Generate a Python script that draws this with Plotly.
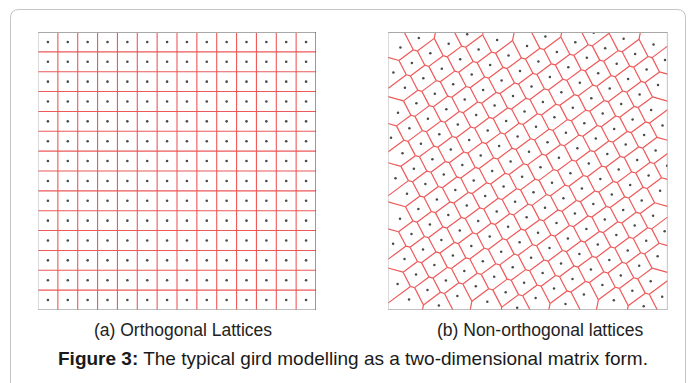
import numpy as np
import plotly.graph_objects as go

# The page body has an 8px margin, so the figure is drawn 8px in and sized to fill the rest.
OFF = 8
FIG_W, FIG_H = 696 - OFF, 383 - OFF

# ---------------- data ----------------
# (a) orthogonal lattice: 14 x 14 cells, grid line indices and cell-centre dots
grid_lines = list(range(15))
cell_centres = [0.5, 1.5, 2.5, 3.5, 4.5, 5.5, 6.5, 7.5, 8.5, 9.5, 10.5, 11.5, 12.5, 13.5]

# (b) non-orthogonal lattice: generator points (px from panel top-left)
pts_u = [
    12.4, 30.8,
    5.4, 23.9, 42.3, 60.7, 79.2,
    16.9, 35.3, 53.8, 72.2, 90.6, 109.1,
    10.0, 28.4, 46.8, 65.2, 83.7, 102.1, 120.5, 139.0, 157.4,
    3.0, 21.4, 39.9, 58.3, 76.7, 95.1, 113.6, 132.0, 150.4, 168.9, 187.3, 205.7,
    14.5, 32.9, 51.3, 69.8, 88.2, 106.6, 125.0, 143.5, 161.9, 180.3, 198.8, 217.2, 235.6,
    7.5, 25.9, 44.4, 62.8, 81.2, 99.7, 118.1, 136.5, 154.9, 173.4, 191.8, 210.2, 228.7, 247.1, 265.5,
    19.0, 37.4, 55.8, 74.3, 92.7, 111.1, 129.6, 148.0, 166.4, 184.8, 203.3, 221.7, 240.1, 258.6, 277.0,
    12.0, 30.4, 48.9, 67.3, 85.7, 104.2, 122.6, 141.0, 159.5, 177.9, 196.3, 214.7, 233.2, 251.6, 270.0,
    5.1, 23.5, 41.9, 60.3, 78.8, 97.2, 115.6, 134.1, 152.5, 170.9, 189.4, 207.8, 226.2, 244.6, 263.1,
    16.5, 35.0, 53.4, 71.8, 90.2, 108.7, 127.1, 145.5, 164.0, 182.4, 200.8, 219.3, 237.7, 256.1, 274.5,
    9.6, 28.0, 46.4, 64.9, 83.3, 101.7, 120.1, 138.6, 157.0, 175.4, 193.9, 212.3, 230.7, 249.2, 267.6,
    21.0, 39.5, 57.9, 76.3, 94.8, 113.2, 131.6, 150.0, 168.5, 186.9, 205.3, 223.8, 242.2, 260.6, 279.1,
    50.9, 69.4, 87.8, 106.2, 124.7, 143.1, 161.5, 179.9, 198.4, 216.8, 235.2, 253.7, 272.1,
    99.3, 117.7, 136.1, 154.6, 173.0, 191.4, 209.8, 228.3, 246.7, 265.1,
    129.2, 147.6, 166.0, 184.5, 202.9, 221.3, 239.7, 258.2, 276.6,
    177.5, 195.9, 214.4, 232.8, 251.2, 269.6,
    225.8, 244.3, 262.7,
    255.7, 274.2,
]
pts_v = [
    15.4, 5.9,
    40.4, 30.9, 21.3, 11.8, 2.2,
    55.8, 46.3, 36.7, 27.2, 17.6, 8.1,
    80.8, 71.3, 61.7, 52.2, 42.6, 33.1, 23.5, 14.0, 4.4,
    105.8, 96.3, 86.7, 77.2, 67.6, 58.1, 48.5, 39.0, 29.4, 19.9, 10.3, 0.8,
    121.3, 111.7, 102.2, 92.6, 83.1, 73.5, 64.0, 54.4, 44.9, 35.3, 25.8, 16.2, 6.7,
    146.3, 136.7, 127.2, 117.6, 108.1, 98.5, 89.0, 79.4, 69.9, 60.3, 50.8, 41.2, 31.7, 22.1, 12.6,
    161.7, 152.1, 142.6, 133.0, 123.5, 113.9, 104.4, 94.8, 85.3, 75.7, 66.2, 56.6, 47.1, 37.5, 28.0,
    186.7, 177.1, 167.6, 158.0, 148.5, 138.9, 129.4, 119.8, 110.3, 100.7, 91.2, 81.6, 72.1, 62.5, 53.0,
    211.7, 202.1, 192.6, 183.0, 173.5, 163.9, 154.4, 144.8, 135.3, 125.7, 116.2, 106.6, 97.1, 87.5, 78.0,
    227.1, 217.6, 208.0, 198.5, 188.9, 179.4, 169.8, 160.3, 150.7, 141.2, 131.6, 122.1, 112.5, 103.0, 93.4,
    252.1, 242.6, 233.0, 223.5, 213.9, 204.4, 194.8, 185.3, 175.7, 166.2, 156.6, 147.1, 137.5, 128.0, 118.4,
    267.5, 258.0, 248.4, 238.9, 229.3, 219.8, 210.2, 200.7, 191.1, 181.6, 172.0, 162.5, 152.9, 143.4, 133.8,
    273.4, 263.9, 254.3, 244.8, 235.2, 225.7, 216.1, 206.6, 197.0, 187.5, 177.9, 168.4, 158.8,
    269.8, 260.2, 250.7, 241.1, 231.6, 222.0, 212.5, 202.9, 193.4, 183.8,
    275.7, 266.1, 256.6, 247.0, 237.5, 227.9, 218.4, 208.8, 199.3,
    272.0, 262.5, 252.9, 243.4, 233.8, 224.3,
    268.3, 258.8, 249.2,
    274.2, 264.7,
]
PANEL_W, PANEL_H = 279.5, 278.0

sub_a = "(a) Orthogonal Lattices"
sub_b = "(b) Non-orthogonal lattices"
caption_bold = "Figure 3:"
caption_rest = " The typical gird modelling as a two-dimensional matrix form."

RED = "rgb(238,88,88)"
DOT = "#4a4a4a"

# ---------------- Voronoi of (b) by half-plane clipping ----------------
P = np.column_stack([pts_u, pts_v]).astype(float)


def clip(poly, p, q):
    d = q - p
    m = (p + q) / 2.0
    out = []
    n = len(poly)
    for k in range(n):
        A = poly[k]
        B = poly[(k + 1) % n]
        fa = np.dot(A - m, d)
        fb = np.dot(B - m, d)
        if fa <= 0:
            out.append(A)
        if fa * fb < 0:
            t = fa / (fa - fb)
            out.append(A + t * (B - A))
    return out


def on_border(A, B, eps=1e-6):
    if abs(A[0] - B[0]) < eps and (abs(A[0]) < eps or abs(A[0] - PANEL_W) < eps):
        return True
    if abs(A[1] - B[1]) < eps and (abs(A[1]) < eps or abs(A[1] - PANEL_H) < eps):
        return True
    return False


seen = set()
vx, vy = [], []
for k, p in enumerate(P):
    poly = [np.array(c, float) for c in [(0, 0), (PANEL_W, 0), (PANEL_W, PANEL_H), (0, PANEL_H)]]
    d2 = ((P - p) ** 2).sum(1)
    for j in np.argsort(d2)[1:45]:
        poly = clip(poly, p, P[j])
    for e in range(len(poly)):
        A = poly[e]
        B = poly[(e + 1) % len(poly)]
        if on_border(A, B):
            continue
        key = tuple(sorted([(round(A[0], 1), round(A[1], 1)), (round(B[0], 1), round(B[1], 1))]))
        if key in seen:
            continue
        seen.add(key)
        vx += [A[0], B[0], None]
        vy += [A[1], B[1], None]


# ---------------- figure ----------------
def px(x):
    return (x - OFF) / FIG_W


def py(y):
    return 1 - (y - OFF) / FIG_H


fig = go.Figure()

# (a) red grid lines (interior)
gx, gy = [], []
for g in grid_lines[1:-1]:
    gx += [g, g, None]
    gy += [grid_lines[0], grid_lines[-1], None]
    gx += [grid_lines[0], grid_lines[-1], None]
    gy += [g, g, None]
fig.add_trace(go.Scatter(x=gx, y=gy, mode="lines", line=dict(color=RED, width=1.1),
                         xaxis="x", yaxis="y", hoverinfo="skip", showlegend=False))
dx = [c for c in cell_centres for _ in cell_centres]
dy = [r for _ in cell_centres for r in cell_centres]
fig.add_trace(go.Scatter(x=dx, y=dy, mode="markers", marker=dict(size=2.6, color=DOT),
                         xaxis="x", yaxis="y", hoverinfo="skip", showlegend=False))

# (b) Voronoi edges and generator dots
fig.add_trace(go.Scatter(x=vx, y=vy, mode="lines", line=dict(color=RED, width=1.2),
                         xaxis="x2", yaxis="y2", hoverinfo="skip", showlegend=False))
fig.add_trace(go.Scatter(x=pts_u, y=pts_v, mode="markers", marker=dict(size=2.5, color=DOT),
                         xaxis="x2", yaxis="y2", hoverinfo="skip", showlegend=False))

y_dom = [py(310), py(32)]
ax_common = dict(visible=False, showgrid=False, zeroline=False, fixedrange=True)
fig.update_layout(
    width=FIG_W, height=FIG_H,
    margin=dict(l=0, r=0, t=0, b=0),
    paper_bgcolor="white", plot_bgcolor="white",
    xaxis=dict(domain=[px(38), px(316)], range=[0, 14], **ax_common),
    yaxis=dict(domain=y_dom, range=[14, 0], **ax_common),
    xaxis2=dict(domain=[px(388), px(667.5)], range=[0, PANEL_W], **ax_common),
    yaxis2=dict(domain=y_dom, range=[PANEL_H, 0], anchor="x2", **ax_common),
)

# panel frames
GRAY = "#a8a8a8"
shapes = []
for xr, yr, x1, y1, right_col in [("x", "y", 14, 14, "#7a4646"), ("x2", "y2", PANEL_W, PANEL_H, "#9a9a9a")]:
    shapes += [
        dict(type="line", xref=xr, yref=yr, x0=0, y0=0, x1=x1, y1=0, line=dict(color=GRAY, width=1.8)),
        dict(type="line", xref=xr, yref=yr, x0=0, y0=y1, x1=x1, y1=y1, line=dict(color=GRAY, width=1.4)),
        dict(type="line", xref=xr, yref=yr, x0=0, y0=0, x1=0, y1=y1, line=dict(color="#b8b8b8", width=1)),
        dict(type="line", xref=xr, yref=yr, x0=x1, y0=0, x1=x1, y1=y1, line=dict(color=right_col, width=1.2)),
    ]

# outer rounded frame (in paper coordinates)
frame = (f"M {px(10.5)},{py(400)} L {px(10.5)},{py(18)} Q {px(10.5)},{py(9.5)} {px(19)},{py(9.5)} "
         f"L {px(677)},{py(9.5)} Q {px(685.5)},{py(9.5)} {px(685.5)},{py(18)} L {px(685.5)},{py(400)}")
shapes.append(dict(type="path", xref="paper", yref="paper", path=frame,
                   line=dict(color="#c4c4c4", width=1)))
fig.update_layout(shapes=shapes)

FONT = "Liberation Sans, Arial, sans-serif"
fig.add_annotation(x=px(183), y=py(330), xref="paper", yref="paper", text=sub_a, showarrow=False,
                   font=dict(family=FONT, size=17.5, color="#222"), xanchor="center", yanchor="middle")
fig.add_annotation(x=px(540), y=py(330), xref="paper", yref="paper", text=sub_b, showarrow=False,
                   font=dict(family=FONT, size=17.5, color="#222"), xanchor="center", yanchor="middle")
fig.add_annotation(x=px(353), y=py(358), xref="paper", yref="paper",
                   text=f"<b>{caption_bold}</b>{caption_rest}", showarrow=False,
                   font=dict(family=FONT, size=19, color="#1a1a1a"), xanchor="center", yanchor="middle")

fig.write_html("out.html")
